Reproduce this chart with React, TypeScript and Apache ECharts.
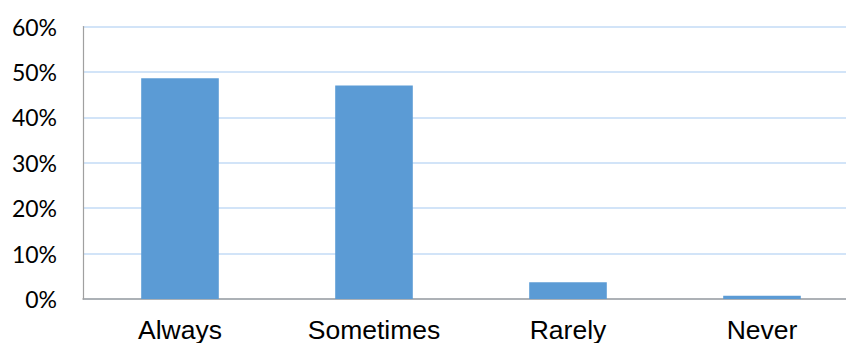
import React, { useEffect, useRef } from "react";
import * as echarts from "echarts";

const categories = ["Always", "Sometimes", "Rarely", "Never"];
const values = [48.6, 47.0, 3.7, 0.7];
const yTicks = [0, 10, 20, 30, 40, 50, 60];

export default function App() {
  const ref = useRef<HTMLDivElement>(null);
  useEffect(() => {
    document.body.style.margin = "0";
    const chart = echarts.init(ref.current!, undefined, { renderer: "svg" });
    chart.setOption({
      animation: false,
      grid: { left: 83, width: 776, top: 26.5, height: 272.5, containLabel: false },
      xAxis: {
        type: "category",
        data: categories,
        axisLine: { show: true, lineStyle: { color: "#a0a0a0", width: 1.5 } },
        axisTick: { show: false },
        axisLabel: { color: "#000", fontFamily: "Liberation Sans, Arial", fontSize: 26.5, margin: 17 },
      },
      yAxis: {
        type: "value",
        min: yTicks[0],
        max: yTicks[yTicks.length - 1],
        interval: 10,
        axisLine: { show: true, lineStyle: { color: "#a0a0a0", width: 1.2 } },
        axisTick: { show: false },
        splitLine: { show: true, lineStyle: { color: "#c3dbf6", width: 1.5 } },
        axisLabel: {
          color: "#000",
          fontFamily: "Lato, Noto Sans",
          fontSize: 23,
          margin: 26,
          formatter: (v: number) => v + "%",
        },
      },
      series: [
        {
          type: "bar",
          data: values,
          barWidth: "40%",
          itemStyle: { color: "#5b9bd5" },
        },
      ],
    });
    return () => chart.dispose();
  }, []);
  return (
    <div style={{ width: 846, height: 343, overflow: "hidden", position: "relative" }}>
      <div ref={ref} style={{ width: 880, height: 343 }} />
    </div>
  );
}
